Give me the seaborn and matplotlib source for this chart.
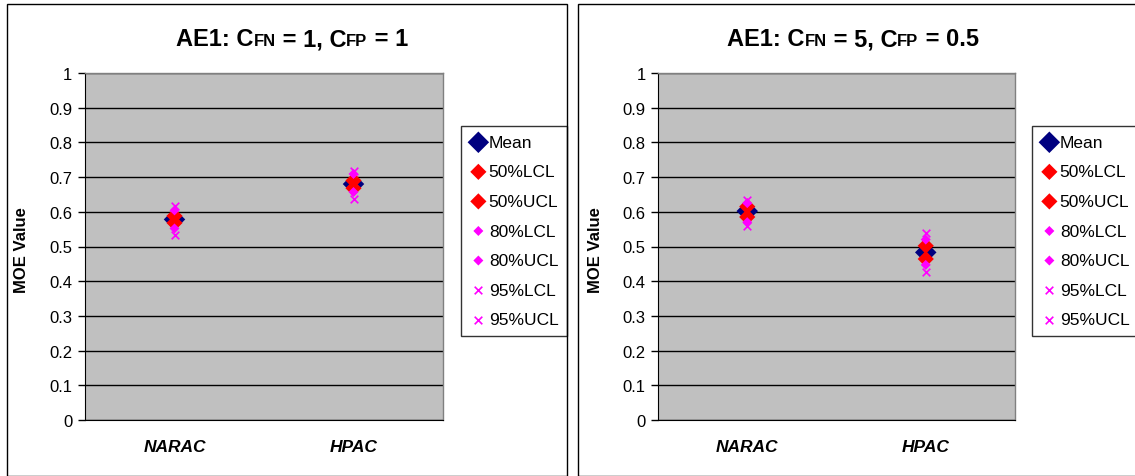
import pandas as pd
import matplotlib.pyplot as plt
import seaborn as sns
from matplotlib.patches import Rectangle
from matplotlib.offsetbox import TextArea, HPacker, AnchoredOffsetbox

# categories and series
tools = ["NARAC", "HPAC"]
stats = ["Mean", "50%LCL", "50%UCL", "80%LCL", "80%UCL", "95%LCL", "95%UCL"]

# values per panel: one list per stat, [NARAC, HPAC]
panel1 = {
    "Mean":   [0.578, 0.680],
    "50%LCL": [0.568, 0.668],
    "50%UCL": [0.588, 0.690],
    "80%LCL": [0.552, 0.657],
    "80%UCL": [0.604, 0.709],
    "95%LCL": [0.533, 0.637],
    "95%UCL": [0.616, 0.718],
}
panel2 = {
    "Mean":   [0.602, 0.483],
    "50%LCL": [0.585, 0.464],
    "50%UCL": [0.615, 0.502],
    "80%LCL": [0.570, 0.447],
    "80%UCL": [0.625, 0.520],
    "95%LCL": [0.560, 0.426],
    "95%UCL": [0.635, 0.540],
}
titles = [("1", "1"), ("5", "0.5")]

colors = {"Mean": "#000080", "50%LCL": "#FF0000", "50%UCL": "#FF0000",
          "80%LCL": "#FF00FF", "80%UCL": "#FF00FF",
          "95%LCL": "#FF00FF", "95%UCL": "#FF00FF"}
markers = {"Mean": "D", "50%LCL": "D", "50%UCL": "D", "80%LCL": "D",
           "80%UCL": "D", "95%LCL": "x", "95%UCL": "x"}
sizes = {"Mean": 120, "50%LCL": 68, "50%UCL": 68, "80%LCL": 26,
         "80%UCL": 26, "95%LCL": 30, "95%UCL": 30}

sns.set_style("white")
plt.rcParams["font.family"] = ["Liberation Sans", "DejaVu Sans"]
plt.rcParams["text.color"] = "black"
plt.rcParams["xtick.color"] = "black"
plt.rcParams["ytick.color"] = "black"

W, H = 1135, 477
fig = plt.figure(figsize=(W / 100, H / 100), dpi=100)

# panel borders
panels_px = [(7, 567), (578, 1140)]
for x0, x1 in panels_px:
    fig.add_artist(Rectangle((x0 / W, 0), (x1 - x0) / W, 1 - 5 / H,
                             transform=fig.transFigure, fill=False,
                             edgecolor="black", linewidth=1))

axes_px = [(85, 443), (658, 1015)]
legend_px = [461, 1032]
title_cx = [292, 853]

for k, (data, (cfn, cfp)) in enumerate(zip([panel1, panel2], titles)):
    l, r = axes_px[k]
    ax = fig.add_axes([l / W, (H - 421) / H, (r - l) / W, 347 / H])
    ax.set_facecolor("#C0C0C0")
    ax.set_axisbelow(True)

    df = pd.DataFrame([{"tool": t, "pos": i, "stat": s, "value": data[s][i]}
                       for s in stats for i, t in enumerate(tools)])
    for s in stats:
        sub = df[df["stat"] == s]
        lw = 1.2 if markers[s] == "x" else 0
        sns.scatterplot(data=sub, x="pos", y="value", ax=ax, marker=markers[s],
                        color=colors[s], s=sizes[s], linewidth=lw,
                        edgecolor=colors[s] if lw else "none", label=s, zorder=3)

    ax.set_xlim(-0.5, 1.5)
    ax.set_ylim(0, 1)
    ax.set_yticks([i / 10 for i in range(11)])
    ax.set_yticklabels(["0"] + [f"{i / 10:g}" for i in range(1, 10)] + ["1"])
    ax.set_xticks([0, 1])
    ax.set_xticklabels(tools, fontweight="bold", fontstyle="italic", fontsize=12.5)
    ax.tick_params(axis="x", length=0, pad=14)
    ax.tick_params(axis="y", length=5, width=1, color="black", labelsize=12, pad=4,
                   left=True)
    ax.yaxis.grid(True, color="black", linewidth=1)
    ax.xaxis.grid(False)
    for side in ["top", "right"]:
        ax.spines[side].set_color("#808080")
        ax.spines[side].set_linewidth(1)
    ax.spines["left"].set_color("black")
    ax.spines["bottom"].set_color("black")
    ax.set_xlabel("")
    ax.set_ylabel("")
    fig.text((l - 63) / W, (H - 250) / H, "MOE Value", rotation=90,
             fontweight="bold", fontsize=12, ha="center", va="center")

    # title with small-size "FN"/"FP"
    big = dict(fontsize=17, fontweight="bold", color="black")
    small = dict(fontsize=12, fontweight="bold", color="black")
    parts = [TextArea("AE1: C", textprops=big), TextArea("FN", textprops=small),
             TextArea(f" = {cfn}, C", textprops=big), TextArea("FP", textprops=small),
             TextArea(f" = {cfp}", textprops=big)]
    box = HPacker(children=parts, align="baseline", pad=0, sep=0)
    ab = AnchoredOffsetbox(loc="center", child=box, frameon=False,
                           bbox_to_anchor=(title_cx[k] / W, 1 - 40 / H),
                           bbox_transform=fig.transFigure, borderpad=0, pad=0)
    fig.add_artist(ab)

    leg = ax.legend(loc="upper left", bbox_to_anchor=(legend_px[k] / W, 1 - 127 / H),
                    bbox_transform=fig.transFigure, frameon=True, fontsize=12.5,
                    fancybox=False, edgecolor="black", borderpad=0.5,
                    labelspacing=0.83, handletextpad=0.1, handlelength=1.0,
                    borderaxespad=0)
    leg.get_frame().set_linewidth(1)

fig.savefig("out.png", dpi=100)
